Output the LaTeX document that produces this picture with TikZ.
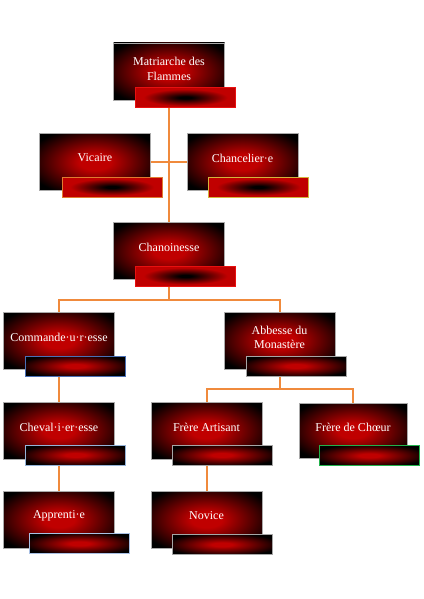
\documentclass[tikz,border=0pt]{standalone}
\usepackage{fontspec}
\setmainfont{Liberation Serif}
\usetikzlibrary{backgrounds}
\definecolor{lineorange}{HTML}{F08A3C}
\definecolor{boxgray}{HTML}{AAAAAA}
\definecolor{darkred}{HTML}{C00000}
\definecolor{bRed}{HTML}{E81010}
\definecolor{bOrange}{HTML}{E07B30}
\definecolor{bGold}{HTML}{D4B43C}
\definecolor{bBlue}{HTML}{4A6FB5}
\definecolor{bGray}{HTML}{A6A6A6}
\definecolor{bLightBlue}{HTML}{95B3D7}
\definecolor{bGreen}{HTML}{22B14C}
\definecolor{bPaleBlue}{HTML}{A9C0E4}
\pgfdeclareradialshading{boxshade}{\pgfpoint{0bp}{0bp}}{color(0bp)=(darkred); color(7bp)=(darkred); color(31bp)=(black); color(50bp)=(black)}
\pgfdeclareradialshading{barredge}{\pgfpoint{0bp}{0bp}}{color(0bp)=(black); color(3bp)=(black); color(21bp)=(darkred); color(50bp)=(darkred)}
\pgfdeclareradialshading{barblack}{\pgfpoint{0bp}{0bp}}{color(0bp)=(darkred); color(5bp)=(darkred); color(29bp)=(black); color(50bp)=(black)}
\begin{document}
\begin{tikzpicture}[x=1pt,y=-1pt,
  rolebox/.style={draw=boxgray, line width=0.8pt, minimum width=111pt, minimum height=57pt, inner sep=0pt, shading=boxshade},
  barA/.style={line width=1pt, minimum width=100pt, minimum height=20pt, inner sep=0pt, shading=barredge},
  barB/.style={line width=1pt, minimum width=100pt, minimum height=20pt, inner sep=0pt, shading=barblack},
  roletext/.style={text=white, font=\fontsize{12}{14.5}\selectfont, align=center, inner sep=0pt},
  link/.style={draw=lineorange, line width=2pt}]
\useasboundingbox (0,0) rectangle (423,599);

% Matriarche
\node[rolebox] (mat) at (169,71.5) {};
\node[barA, draw=bRed] (matB) at (185.5,97.5) {};
\node[roletext] (matT) at ([yshift=2.5pt]mat.center) {Matriarche des\\Flammes};

% Vicaire
\node[rolebox] (vic) at (95,162) {};
\node[barA, draw=bOrange] (vicB) at (112,187) {};
\node[roletext] (vicT) at ([yshift=4pt]vic.center) {Vicaire};

% Chancelier
\node[rolebox] (cha) at (242.5,162) {};
\node[barA, draw=bGold] (chaB) at (258.5,187) {};
\node[roletext] (chaT) at ([yshift=4pt]cha.center) {Chancelier·e};

% Chanoinesse
\node[rolebox] (chan) at (169,251) {};
\node[barA, draw=bRed] (chanB) at (185.5,276) {};
\node[roletext] (chanT) at ([yshift=4pt]chan.center) {Chanoinesse};

% Commande
\node[rolebox] (com) at (59,340.5) {};
\node[barB, draw=bBlue] (comB) at (75.5,366) {};
\node[roletext] (comT) at ([yshift=3pt]com.center) {Commande·u·r·esse};

% Abbesse
\node[rolebox] (abb) at (279.5,340.5) {};
\node[barB, draw=bGray] (abbB) at (296,366) {};
\node[roletext] (abbT) at ([yshift=3pt]abb.center) {Abbesse du\\Monastère};

% Cheval
\node[rolebox] (chev) at (59,430.5) {};
\node[barB, draw=bLightBlue] (chevB) at (75.5,455) {};
\node[roletext] (chevT) at ([yshift=3.5pt]chev.center) {Cheval·i·er·esse};

% Frere Artisant
\node[rolebox] (art) at (206.5,430.5) {};
\node[barB, draw=bGray] (artB) at (222,455) {};
\node[roletext] (artT) at ([yshift=3.5pt]art.center) {Frère Artisant};

% Frere de Choeur
\node[rolebox, minimum width=108pt, minimum height=55pt] (choe) at (353,430.5) {};
\node[barB, draw=bGreen] (choeB) at (369.5,455.5) {};
\node[roletext] (choeT) at ([yshift=3.5pt]choe.center) {Frère de Chœur};

% Apprenti
\node[rolebox] (app) at (59,519.5) {};
\node[barB, draw=bPaleBlue] (appB) at (79.5,543.5) {};
\node[roletext] (appT) at ([yshift=3.5pt]app.center) {Apprenti·e};

% Novice
\node[rolebox] (nov) at (206.5,519.5) {};
\node[barB, draw=bGray] (novB) at (222,544.5) {};
\node[roletext] (novT) at ([yshift=3.5pt]nov.center) {Novice};

\begin{scope}[on background layer]
\draw[link] (mat.south) -- (chan.north);
\draw[link] (vic.east) -- (cha.west);
\draw[link] (chan.south) -- ++(0,20) -| (com.north);
\draw[link] (chan.south) -- ++(0,20) -| (abb.north);
\draw[link] (com.south) -- (chev.north);
\draw[link] (abb.south) -- ++(0,20) -| (art.north);
\draw[link] (abb.south) -- ++(0,20) -| (choe.north);
\draw[link] (chev.south) -- (app.north);
\draw[link] (art.south) -- (nov.north);
\end{scope}
\end{tikzpicture}
\end{document}
